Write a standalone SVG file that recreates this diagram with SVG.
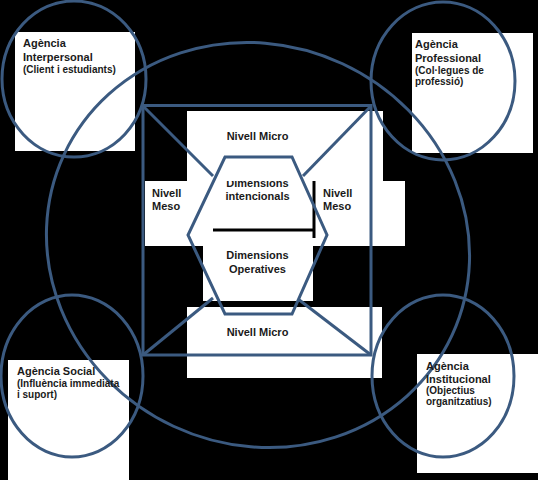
<svg xmlns="http://www.w3.org/2000/svg" width="538" height="480" viewBox="0 0 538 480">
<style>
.box{fill:#ffffff;stroke:none}
.t{font-family:"Liberation Sans",Arial,sans-serif;font-weight:bold;font-size:11px;fill:#1a1a1a}
.s{font-size:10px}
.c{text-anchor:middle}
.ln{fill:none;stroke:#3b5a80;stroke-width:3}
.gap{stroke:#000000;stroke-width:3}
</style>
<defs>
<clipPath id="clipDim"><rect x="180" y="181" width="150" height="60"/></clipPath>
</defs>
<rect x="0" y="0" width="538" height="480" fill="#000000"/>
<g id="node-meso-row">
<rect class="box" x="145" y="181" width="260" height="65"/>
</g>
<g id="node-meso-left">
<text class="t" x="152" y="197">Nivell</text>
<text class="t" x="152" y="210">Meso</text>
</g>
<g id="node-meso-right">
<text class="t" x="323" y="197">Nivell</text>
<text class="t" x="323" y="210">Meso</text>
</g>
<g id="node-intencionals">
<text class="t c" x="257.5" y="187" clip-path="url(#clipDim)">Dimensions</text>
<text class="t c" x="257.5" y="200">intencionals</text>
</g>
<g id="node-micro-top">
<rect class="box" x="187" y="111" width="196" height="70"/>
<text class="t c" x="257.5" y="140">Nivell Micro</text>
</g>
<g id="node-operatives">
<rect class="box" x="203" y="231" width="110" height="70"/>
<text class="t c" x="257.5" y="259">Dimensions</text>
<text class="t c" x="257.5" y="273">Operatives</text>
</g>
<g id="node-micro-bottom">
<rect class="box" x="187" y="307" width="195" height="71"/>
<text class="t c" x="257.5" y="336">Nivell Micro</text>
</g>
<g id="gaps">
<line class="gap" x1="213" y1="230" x2="314" y2="230"/>
<line class="gap" x1="314" y1="181" x2="314" y2="238"/>
</g>
<g id="node-interpersonal">
<rect class="box" x="15" y="32" width="120" height="119"/>
</g>
<g id="node-professional">
<rect class="box" x="412" y="33" width="121" height="120"/>
</g>
<g id="node-social">
<rect class="box" x="8" y="360" width="121" height="120"/>
</g>
<g id="node-institutional">
<rect class="box" x="417" y="354" width="121" height="119"/>
</g>
<g id="connectors">
<ellipse class="ln" cx="0" cy="0" rx="214" ry="200" transform="translate(258 245) rotate(25)"/>
<ellipse class="ln" cx="74" cy="79" rx="72" ry="78"/>
<ellipse class="ln" cx="443" cy="81" rx="72" ry="79"/>
<ellipse class="ln" cx="72" cy="376" rx="71" ry="81"/>
<ellipse class="ln" cx="443" cy="376" rx="71" ry="81"/>
<rect class="ln" x="143" y="105.5" width="228" height="249.5"/>
<polygon class="ln" points="225,157 292,157 327,235 292,314 225,314 188,235"/>
<line class="ln" x1="143" y1="106" x2="213" y2="176"/>
<line class="ln" x1="371" y1="106" x2="303" y2="176"/>
<line class="ln" x1="143" y1="355" x2="213" y2="298"/>
<line class="ln" x1="371" y1="355" x2="298" y2="299"/>
</g>
<g id="labels">
<text class="t" x="23" y="47">Agència</text>
<text class="t" x="23" y="61">Interpersonal</text>
<text class="t s" x="23" y="73">(Client i estudiants)</text>
<text class="t" x="415" y="48">Agència</text>
<text class="t" x="415" y="62">Professional</text>
<text class="t s" x="415" y="74">(Col·legues de</text>
<text class="t s" x="415" y="85">professió)</text>
<text class="t" x="17" y="375">Agència Social</text>
<text class="t s" x="17" y="387">(Influència immediata</text>
<text class="t s" x="17" y="398">i suport)</text>
<text class="t" x="426" y="370">Agència</text>
<text class="t" x="426" y="383">Institucional</text>
<text class="t s" x="426" y="394">(Objectius</text>
<text class="t s" x="426" y="405">organitzatius)</text>
</g>
</svg>
